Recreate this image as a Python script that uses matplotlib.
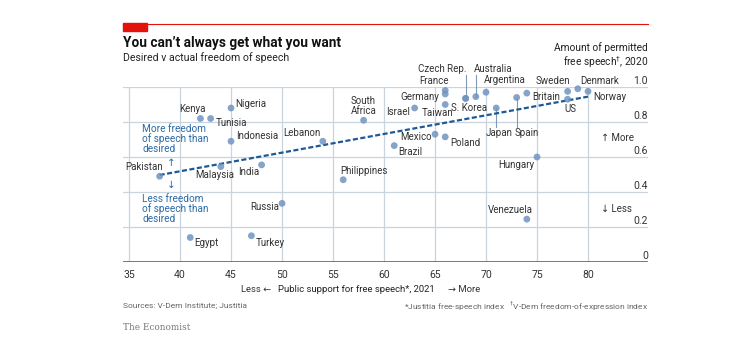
import matplotlib.pyplot as plt
from matplotlib.patches import Rectangle
from matplotlib.lines import Line2D

plt.rcParams['font.family'] = ['Roboto', 'DejaVu Sans']

# Données
pays = ['Pakistan', 'Egypt', 'Kenya', 'Tunisia', 'Malaysia', 'Nigeria', 'Indonesia',
        'Turkey', 'India', 'Russia', 'Lebanon', 'Philippines', 'South\nAfrica', 'Brazil',
        'Israel', 'Mexico', 'France', 'Germany', 'Taiwan', 'Poland', 'Czech Rep.',
        'S. Korea', 'Australia', 'Argentina', 'Japan', 'Spain', 'Britain', 'Venezuela',
        'Hungary', 'Sweden', 'US', 'Denmark', 'Norway']
soutien = [38, 41, 42, 43, 44, 45, 45, 47, 48, 50, 54, 56, 58, 61, 63, 65, 66, 66, 66,
           66, 68, 68, 69, 70, 71, 73, 74, 74, 75, 78, 78, 79, 80]
liberte = [0.49, 0.14, 0.82, 0.82, 0.545, 0.88, 0.69, 0.15, 0.555, 0.335, 0.69, 0.47,
           0.81, 0.665, 0.88, 0.73, 0.98, 0.96, 0.90, 0.715, 0.935, 0.935, 0.945, 0.97,
           0.88, 0.94, 0.965, 0.245, 0.60, 0.975, 0.93, 0.99, 0.975]
tendance_x = [38, 80]
tendance_y = [0.497, 0.945]
xticks = [35, 40, 45, 50, 55, 60, 65, 70, 75, 80]
yticks = [0, 0.2, 0.4, 0.6, 0.8, 1.0]
ylabels = ['0', '0.2', '0.4', '0.6', '0.8', '1.0']

# position des étiquettes (décalage en pixels, alignement)
etiquettes = {
    'Pakistan': (3, 9, 'right'), 'Egypt': (4, -6, 'left'), 'Kenya': (-8, 10, 'center'),
    'Tunisia': (5, -4, 'left'), 'Malaysia': (-6, -8, 'center'), 'Nigeria': (4, 4, 'left'),
    'Indonesia': (5, 5, 'left'), 'Turkey': (4, -7, 'left'), 'India': (-2, -7, 'right'),
    'Russia': (-3, -4, 'right'), 'Lebanon': (-2, 8, 'right'),
    'Philippines': (-3, 9, 'left'), 'South\nAfrica': (0, 14.5, 'center'),
    'Brazil': (4, -6, 'left'), 'Israel': (-5, -4, 'right'), 'Mexico': (-3, -3, 'right'),
    'France': (-11, 9, 'center'), 'Germany': (-6, -3, 'right'),
    'Taiwan': (-8, -8, 'center'), 'Poland': (5, -6, 'left'),
    'Czech Rep.': (1, 29, 'right'), 'S. Korea': (3, -10, 'center'),
    'Australia': (-2, 28, 'left'), 'Argentina': (-2, 12, 'left'),
    'Japan': (3, -25, 'center'), 'Spain': (-2, -35, 'left'), 'Britain': (5, -4, 'left'),
    'Venezuela': (-16, 9, 'center'), 'Hungary': (-3, -8, 'right'),
    'Sweden': (3, 10, 'right'), 'US': (3, -10, 'center'), 'Denmark': (2, 8, 'left'),
    'Norway': (5, -6, 'left'),
}

fig = plt.figure(figsize=(7.49, 3.57), dpi=100)
ax = fig.add_axes([123/749, 1-262/357, 525/749, 175/357])
ax.set_xlim(34.41, 85.88)
ax.set_ylim(0, 1.0)

gris = '#c9d4de'
for v in xticks:
    ax.plot([v, v], [0, 1.0], color=gris, lw=0.9, zorder=1)
for v in yticks[1:]:
    ax.axhline(v, color=gris, lw=0.9, zorder=1)
ax.axhline(0, color='#555555', lw=1.1, zorder=2)

# traits de rappel
for x0, y0, y1 in [(68, 0.935, 1.07), (69, 0.945, 1.07), (71, 0.88, 0.771), (73, 0.94, 0.771)]:
    ax.plot([x0, x0], [y0, y1], color='#7f9bb8', lw=0.8, zorder=2, clip_on=False)

ax.plot(tendance_x, tendance_y, color='#1d5a94', lw=1.6, ls=(0, (2.3, 1.1)), zorder=3)
ax.scatter(soutien, liberte, s=24, color='#6f94c0', alpha=0.85, edgecolor='none',
           zorder=4, clip_on=False)

for p, x, y in zip(pays, soutien, liberte):
    dx, dy, ha = etiquettes[p]
    ax.annotate(p, (x, y), xytext=(dx, dy), textcoords='offset pixels', ha=ha,
                va='center', fontsize=7, color='#333333', zorder=5,
                linespacing=1.05, annotation_clip=False)

for s in ax.spines.values():
    s.set_visible(False)
ax.set_xticks(xticks)
ax.set_xticklabels([str(v) for v in xticks], fontsize=7.5, color='#333333')
ax.tick_params(axis='x', length=0, pad=6)
ax.set_yticks([])
for v, lab in zip(yticks, ylabels):
    ax.annotate(lab, (1, v), xycoords=('axes fraction', 'data'), xytext=(0, 6),
                textcoords='offset pixels', ha='right', va='center', fontsize=7.5,
                color='#333333', annotation_clip=False)

bleu = '#2b6aa5'
ax.text(36.3, 0.703, 'More freedom\nof speech than\ndesired', fontsize=7.2, color=bleu,
        va='center', linespacing=0.95)
ax.text(36.3, 0.303, 'Less freedom\nof speech than\ndesired', fontsize=7.2, color=bleu,
        va='center', linespacing=0.95)
ax.text(39.1, 0.566, '↑', fontsize=7.5, color=bleu, ha='center', va='center')
ax.text(39.1, 0.44, '↓', fontsize=7.5, color=bleu, ha='center', va='center')
ax.text(81.3, 0.71, '↑ More', fontsize=7, color='#333333', va='center')
ax.text(81.3, 0.305, '↓ Less', fontsize=7, color='#333333', va='center')

# titres et notes
fig.patches.append(Rectangle((123/749, 1-31/357), 24/749, 8/357, transform=fig.transFigure,
                             color='#e3120b'))
fig.lines.append(Line2D([123/749, 648/749], [1-23.5/357, 1-23.5/357],
                        transform=fig.transFigure, color='#e3120b', lw=0.8))
fig.text(123/749, 1-43/357, 'You can’t always get what you want', fontsize=9.8,
         fontweight='bold', va='center', color='#111111')
fig.text(123/749, 1-58/357, 'Desired v actual freedom of speech', fontsize=7.6,
         va='center', color='#222222')
fig.text(648/749, 1-56/357, 'Amount of permitted\nfree speech$^{\\dag}$, 2020', fontsize=7.3,
         ha='right', va='center', color='#222222', linespacing=1.1)
fig.text(271/749, 1-289/357, 'Less ←', fontsize=6.8, ha='right', va='center', color='#333333')
fig.text(278/749, 1-289/357, 'Public support for free speech*, 2021', fontsize=6.8,
         va='center', color='#222222')
fig.text(448/749, 1-289/357, '→ More', fontsize=6.8, va='center', color='#333333')
fig.text(123/749, 1-306/357, 'Sources: V-Dem Institute; Justitia', fontsize=6.0,
         va='center', color='#666666')
fig.text(648/749, 1-306/357, '*Justitia free-speech index   $^{\\dag}$V-Dem freedom-of-expression index',
         fontsize=6.0, ha='right', va='center', color='#666666')
fig.text(123/749, 1-327/357, 'The Economist', fontsize=6.4, family='DejaVu Serif',
         va='center', color='#777777')

fig.savefig('out.png', dpi=100)
